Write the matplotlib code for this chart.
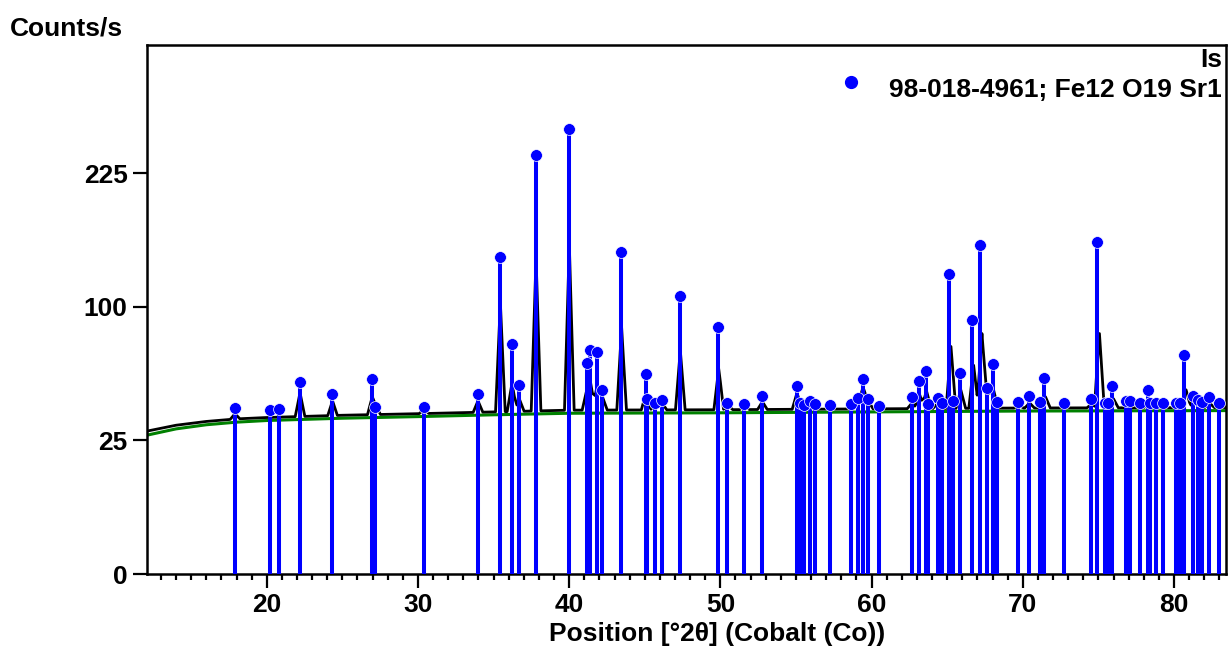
import numpy as np
import matplotlib
matplotlib.use('Agg')
import matplotlib.pyplot as plt

plt.rcParams['font.family'] = ['Liberation Sans', 'DejaVu Sans']
plt.rcParams['font.weight'] = 'bold'

# Reference pattern 98-018-4961 (Fe12 O19 Sr1): stick positions [deg 2theta] and heights [counts/s]
ref_pos = [17.88, 20.24, 20.79, 22.18, 24.34, 26.96, 27.14, 30.37, 33.95, 35.43,
           36.20, 36.67, 37.79, 39.99, 41.16, 41.38, 41.84, 42.20, 43.45, 45.07,
           45.13, 45.68, 46.12, 47.33, 49.87, 50.46, 51.55, 52.76, 55.05, 55.27,
           55.53, 55.93, 56.26, 57.26, 58.65, 59.09, 59.42, 59.76, 60.50, 62.66,
           63.16, 63.61, 63.76, 64.36, 64.65, 65.15, 65.37, 65.85, 66.65, 67.18,
           67.62, 68.00, 68.32, 69.71, 70.40, 71.15, 71.43, 72.73, 74.52, 74.93,
           75.44, 75.66, 75.93, 76.81, 77.10, 77.76, 78.29, 78.42, 78.82, 79.30,
           80.14, 80.40, 80.67, 81.28, 81.62, 81.84, 82.30, 83.00]
ref_int = [38.5, 37.7, 38.2, 51.9, 45.4, 53.2, 39.3, 39.3, 45.3, 140.7,
           74.0, 49.9, 245.9, 277.4, 62.3, 70.4, 68.9, 47.5, 144.8, 56.1,
           42.8, 41.2, 42.5, 108.2, 85.6, 41.2, 40.4, 44.4, 49.7, 40.9,
           40.1, 42.0, 40.4, 40.1, 40.5, 43.6, 53.0, 43.1, 39.7, 43.8,
           52.3, 57.8, 40.4, 43.3, 41.2, 126.2, 42.1, 56.5, 90.3, 151.8,
           48.4, 61.9, 41.4, 41.6, 44.6, 41.6, 53.7, 41.2, 42.8, 154.3,
           41.2, 40.9, 49.7, 42.1, 42.1, 41.2, 47.5, 40.9, 41.2, 41.2,
           40.9, 41.2, 66.9, 44.4, 42.5, 41.6, 44.1, 41.2]

# Background (green)
bg_x = [12.08, 14.0, 16.0, 18.0, 20.0, 25.0, 30.0, 35.0, 40.0, 50.0, 60.0, 70.0, 83.44]
bg_y = [27.0, 29.5, 31.2, 32.3, 33.0, 34.0, 34.7, 35.5, 36.2, 36.4, 36.8, 37.2, 37.4]

# Observed scan (black): baseline level and peak maxima
obs_base_x = [12.08, 14.0, 16.0, 18.0, 20.0, 25.0, 30.0, 35.0, 40.0, 50.0, 60.0, 70.0, 83.44]
obs_base_y = [28.6, 31.0, 32.6, 33.7, 34.3, 35.3, 36.0, 36.8, 37.6, 37.8, 38.2, 38.6, 38.8]
obs_peak_pos = [17.9, 22.2, 24.35, 26.98, 27.2, 30.4, 33.97, 35.45, 36.22, 36.7,
                37.81, 40.01, 41.18, 41.4, 41.86, 42.2, 43.47, 45.09, 45.7, 46.14,
                47.35, 49.89, 50.5, 51.6, 52.78, 55.07, 55.95, 59.1, 59.44, 59.78,
                62.68, 63.18, 63.63, 64.38, 65.25, 65.9, 66.75, 67.3, 67.68, 68.05,
                69.73, 70.45, 71.5, 74.56, 75.07, 76.0, 78.33, 80.8, 81.35, 82.35]
obs_peak_int = [36, 46, 42, 44, 40, 38, 42, 103, 51, 43,
                140, 152, 48, 52, 50, 44, 85, 46, 41, 41,
                70, 59, 40, 39.5, 41.6, 46, 40, 41, 49, 42,
                41, 45, 47, 41, 72.5, 47.5, 61, 81, 47, 48,
                40, 41, 44, 40.5, 81, 43, 41, 47.5, 43, 41]

fig = plt.figure(figsize=(12.31, 6.51), dpi=100)
ax = fig.add_axes([147 / 1231, 1 - 574 / 651, (1226 - 147) / 1231, (574 - 45) / 651])
ax.set_yscale('function', functions=(lambda y: np.sqrt(np.clip(y, 0, None)),
                                     lambda s: np.square(s)))

# build observed polyline (baseline with triangular peaks)
hw = 0.32
vx = list(obs_base_x)
for c in obs_peak_pos:
    vx += [c - hw, c, c + hw]
vx = np.array(sorted(vx))
vy = np.interp(vx, obs_base_x, obs_base_y)
for c, h in zip(obs_peak_pos, obs_peak_int):
    inside = np.abs(vx - c) <= hw
    bl = np.interp(vx, obs_base_x, obs_base_y)
    tri = bl + (h - bl) * (1 - np.abs(vx - c) / hw)
    vy = np.where(inside, np.maximum(vy, tri), vy)

ax.plot(bg_x, bg_y, color='#008000', lw=2.2, zorder=2)
ax.plot(vx, vy, color='black', lw=2.0, zorder=3)
ax.vlines(ref_pos, 0, ref_int, color='#0000FF', lw=2.9, zorder=4)
ax.plot(ref_pos, ref_int, 'o', color='#0000FF', ms=8.5, mec='white', mew=0.5, zorder=5)

ax.set_xlim(12.08, 83.44)
ax.set_ylim(0, 392)
ax.set_yticks([0, 25, 100, 225])
ax.set_yticklabels(['0', '25', '100', '225'])
ax.set_xticks([20, 30, 40, 50, 60, 70, 80])
ax.set_xticks(np.arange(13, 84, 1), minor=True)
ax.yaxis.set_minor_locator(matplotlib.ticker.NullLocator())

for s in ax.spines.values():
    s.set_linewidth(1.8)
ax.tick_params(axis='x', which='major', length=10, width=1.6, pad=3.5, labelsize=19)
ax.tick_params(axis='x', which='minor', length=4.3, width=1.6)
ax.tick_params(axis='y', which='major', length=10, width=1.6, pad=4, labelsize=19)
for lab in ax.get_xticklabels() + ax.get_yticklabels():
    lab.set_fontweight('bold')

fig.text(10 / 1231, 1 - 28 / 651, 'Counts/s', ha='left', va='center', fontsize=19, fontweight='bold')
fig.text(717 / 1231, 1 - 634 / 651, 'Position [°2θ] (Cobalt (Co))', ha='center', va='center',
         fontsize=19, fontweight='bold')

# legend
fig.text(1222 / 1231, 1 - 60 / 651, 'Is', ha='right', va='center', fontsize=19, fontweight='bold')
fig.text(1222 / 1231, 1 - 90 / 651, '98-018-4961; Fe12 O19 Sr1', ha='right', va='center',
         fontsize=19, fontweight='bold')
fig.lines.append(matplotlib.lines.Line2D([851 / 1231], [1 - 82 / 651], marker='o', color='#0000FF',
                                         ms=8.5, ls='none', transform=fig.transFigure))

fig.savefig('out.png', dpi=100)
